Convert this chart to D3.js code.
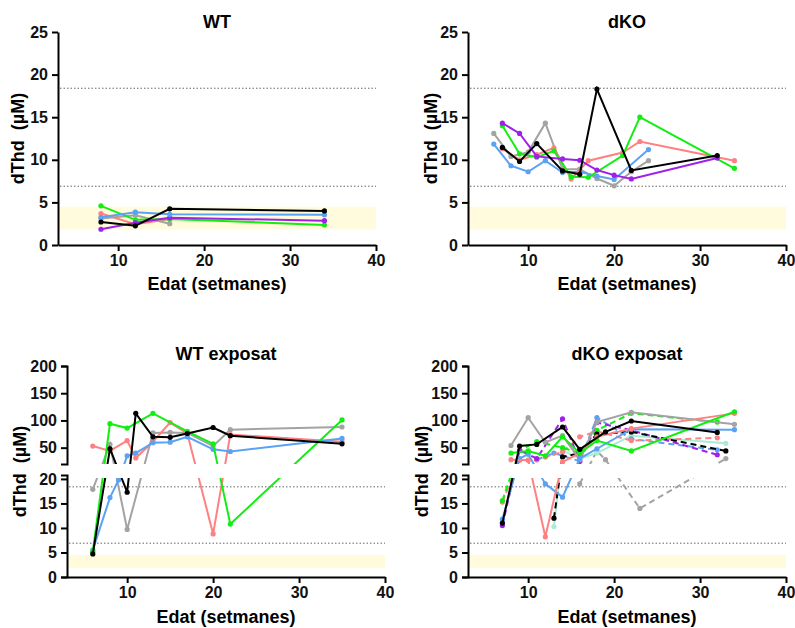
<!DOCTYPE html>
<html>
<head>
<meta charset="utf-8">
<script src="https://cdn.jsdelivr.net/npm/d3@7"></script>
<style>
  body { margin: 0; background: #fff; }
  svg { font-family: "Liberation Sans", Arial, sans-serif; }
</style>
</head>
<body>
<svg id="chart" width="795" height="628"></svg>
<script>
// ticks and reference values
const xTicks = [10, 20, 30, 40];
const yTicksTop = [0, 5, 10, 15, 20, 25];
const yTicksLow = [0, 5, 10, 15, 20];
const yTicksHigh = [50, 100, 150, 200];
const refLines = [18.4, 6.9];
const normalBand = [1.8, 4.5];

// WT  [week, dThd]
const wtGray = [[8, 3.1], [12, 3.5], [16, 2.5]];
const wtPink = [[8, 3.7], [12, 2.45], [16, 3.05]];
const wtGreen = [[8, 4.6], [12, 2.95], [16, 3.05], [34, 2.35]];
const wtPurple = [[8, 1.85], [12, 2.6], [16, 3.2], [34, 2.85]];
const wtBlue = [[8, 3.25], [12, 3.85], [16, 3.6], [34, 3.55]];
const wtBlack = [[8, 2.7], [12, 2.25], [16, 4.25], [34, 4.0]];

// dKO
const dkoGray = [[6, 13.1], [8, 10.4], [10, 10.9], [12, 14.3], [14, 8.9], [16, 8.9], [18, 7.8], [20, 6.95], [22, 8.6], [24, 9.9]];
const dkoBlue = [[6, 11.85], [8, 9.3], [10, 8.6], [12, 9.9], [14, 8.5], [16, 8.6], [18, 8.1], [20, 7.7], [24, 11.2]];
const dkoPink = [[7, 11.3], [9, 10.0], [11, 10.6], [13, 11.4], [15, 7.75], [17, 9.9], [21, 10.85], [23, 12.15], [34, 9.9]];
const dkoGreen = [[7, 14.0], [9, 10.7], [11, 10.3], [13, 11.05], [15, 8.0], [17, 7.95], [21, 10.5], [23, 15.0], [34, 9.0]];
const dkoPurple = [[7, 14.3], [9, 13.1], [11, 10.4], [14, 10.1], [16, 9.95], [18, 8.8], [20, 8.2], [22, 7.75], [32, 10.2]];
const dkoBlack = [[7, 11.45], [9, 9.8], [11, 11.9], [14, 8.7], [16, 8.3], [18, 18.3], [22, 8.75], [32, 10.5]];

// WT exposat
const wteGray = [[6, 17.9], [8, 56], [10, 9.7], [13, 77], [15, 78], [17, 77], [20, 53], [22, 83], [35, 88]];
const wtePink = [[6, 53], [8, 44], [10, 63], [11, 31], [13, 61], [15, 96], [17, 76], [20, 8.8], [22, 74], [35, 61]];
const wteBlue = [[6, 5.5], [8, 16.2], [9, 19.8], [10, 35], [11, 40], [13, 59], [15, 60], [17, 70], [20, 47], [22, 43], [35, 67]];
const wteGreen = [[6, 5.2], [8, 94], [10, 86], [13, 113], [17, 80], [20, 57], [22, 10.8], [35, 101]];
const wteBlack = [[6, 4.7], [8, 48], [10, 17.3], [11, 113], [13, 70], [15, 69], [17, 76], [20, 87], [22, 72], [35, 57]];

// dKO exposat (solid)
const dkeGray = [[8, 54], [10, 105], [12, 60], [14, 72], [16, 28], [18, 97], [22, 115], [34, 93]];
const dkeMint = [[13, 10.3], [14, 45], [16, 30], [18, 40], [22, 72], [33, 58]];
const dkeBlue = [[7, 11.8], [9, 30], [10, 38], [12, 19], [14, 16.3], [16, 30], [18, 48], [22, 84], [34, 83]];
const dkePink = [[8, 28], [10, 27], [12, 8.2], [14, 24], [16, 40], [18, 70], [22, 85], [34, 113]];
const dkeGreen = [[8, 40], [10, 44], [12, 35], [14, 70], [16, 40], [18, 63], [22, 44], [34, 116]];
const dkeBlack = [[7, 11], [9, 53], [11, 56], [14, 88], [16, 47], [19, 79], [22, 99], [32, 78]];
// dKO exposat (dashed)
const dkeGrayD = [[16, 19], [18, 44], [19, 28], [23, 14], [33, 30]];
const dkeBlueD = [[11, 28], [13, 40], [16, 25], [18, 105], [22, 66], [32, 46]];
const dkePinkD = [[7, 15.3], [9, 27], [11, 28], [12, 33], [14, 42], [16, 70], [18, 80], [22, 63], [32, 68]];
const dkeGreenD = [[7, 15.6], [9, 45], [11, 61], [14, 50], [16, 40], [18, 82], [22, 113], [32, 97]];
const dkePurpleD = [[7, 10.5], [9, 45], [11, 30], [14, 103], [16, 25], [18, 96], [22, 82], [32, 37]];
const dkeBlackD = [[13, 12], [14, 33], [16, 40], [18, 75], [22, 79], [33, 44]];

const colors = {
  black: "#000000",
  gray: "#a3a3a3",
  green: "#11ee11",
  pink: "#ff8080",
  blue: "#5aa2f2",
  purple: "#a020e8",
  mint: "#a8ecd4",
};

// simple axis for the top row
const fullAxis = [{ domain: [0, 25], bottom: 245, top: 32, ticks: yTicksTop, outer: 0 }];
// broken axis for the bottom row: 0-20 below, 20-200 above
const brokenAxis = [
  { domain: [0, 20.8], bottom: 577, top: 475, ticks: yTicksLow, outer: 6 },
  { domain: [20, 200], bottom: 464, top: 366, ticks: yTicksHigh, outer: 6 },
];

const panels = [
  {
    title: "WT", left: 58, right: 376, titleY: 28, labelX: 24, xLabelY: 290,
    yDomain: [0, 25], yRange: [245, 32], axes: fullAxis, clips: [[0, 260]],
    series: [
      { data: wtGray, c: "gray" }, { data: wtPink, c: "pink" }, { data: wtGreen, c: "green" },
      { data: wtPurple, c: "purple" }, { data: wtBlue, c: "blue" }, { data: wtBlack, c: "black" },
    ],
  },
  {
    title: "dKO", left: 468, right: 786, titleY: 28, labelX: 437, xLabelY: 290,
    yDomain: [0, 25], yRange: [245, 32], axes: fullAxis, clips: [[0, 260]],
    series: [
      { data: dkoGray, c: "gray" }, { data: dkoBlue, c: "blue" }, { data: dkoPink, c: "pink" },
      { data: dkoGreen, c: "green" }, { data: dkoPurple, c: "purple" }, { data: dkoBlack, c: "black" },
    ],
  },
  {
    title: "WT exposat", left: 67, right: 385, titleY: 360, labelX: 26, xLabelY: 623,
    yDomain: [0, 20, 20.001, 200], yRange: [577, 479, 464, 366], axes: brokenAxis,
    clips: [[478, 590], [355, 464]],
    series: [
      { data: wteGray, c: "gray" }, { data: wtePink, c: "pink" }, { data: wteBlue, c: "blue" },
      { data: wteGreen, c: "green" }, { data: wteBlack, c: "black" },
    ],
  },
  {
    title: "dKO exposat", left: 468, right: 786, titleY: 360, labelX: 428, xLabelY: 623,
    yDomain: [0, 20, 20.001, 200], yRange: [577, 479, 464, 366], axes: brokenAxis,
    clips: [[478, 590], [355, 464]],
    series: [
      { data: dkeGrayD, c: "gray", dash: true }, { data: dkeMint, c: "mint" },
      { data: dkeBlueD, c: "blue", dash: true }, { data: dkePinkD, c: "pink", dash: true },
      { data: dkeGreenD, c: "green", dash: true }, { data: dkePurpleD, c: "purple", dash: true },
      { data: dkeBlackD, c: "black", dash: true },
      { data: dkeGray, c: "gray" }, { data: dkeBlue, c: "blue" }, { data: dkePink, c: "pink" },
      { data: dkeGreen, c: "green" }, { data: dkeBlack, c: "black" },
    ],
  },
];

const svg = d3.select("#chart");
const defs = svg.append("defs");

const styleAxis = (g) => {
  g.attr("font-family", null).attr("font-size", null);
  g.select(".domain").attr("stroke-width", 2);
  g.selectAll(".tick line").attr("stroke-width", 2);
  g.selectAll(".tick text").attr("font-size", 16).attr("font-weight", "bold").attr("fill", "#111");
};

const drawPanel = (p, i) => {
  const x = d3.scaleLinear().domain([3, 40]).range([p.left, p.right]);
  const y = d3.scaleLinear().domain(p.yDomain).range(p.yRange);
  const g = svg.append("g");

  g.append("rect")
    .attr("x", x(3))
    .attr("width", x(40) - x(3))
    .attr("y", y(normalBand[1]))
    .attr("height", y(normalBand[0]) - y(normalBand[1]))
    .attr("fill", "#fffbdc");

  refLines.forEach((r) => {
    g.append("line")
      .attr("x1", x(3) + 2)
      .attr("x2", x(40))
      .attr("y1", y(r))
      .attr("y2", y(r))
      .attr("stroke", "#666")
      .attr("stroke-width", 1)
      .attr("stroke-dasharray", "1.5,2");
  });

  // lines run straight across the break; the gap itself is hidden by the clip
  const clip = defs.append("clipPath").attr("id", "clip" + i);
  p.clips.forEach(([t, b]) => {
    clip.append("rect")
      .attr("x", p.left - 5)
      .attr("width", p.right - p.left + 10)
      .attr("y", t)
      .attr("height", b - t);
  });

  const plot = g.append("g").attr("clip-path", `url(#clip${i})`);
  const valueLine = d3
    .line()
    .x((d) => x(d[0]))
    .y((d) => y(d[1]));

  p.series.forEach((sr) => {
    plot.append("path")
      .datum(sr.data)
      .attr("d", valueLine)
      .attr("fill", "none")
      .attr("stroke", colors[sr.c])
      .attr("stroke-width", 2)
      .attr("stroke-dasharray", sr.dash ? "6,4" : null);
    plot.selectAll(null)
      .data(sr.data)
      .enter()
      .append("circle")
      .attr("r", 2.6)
      .attr("cx", (d) => x(d[0]))
      .attr("cy", (d) => y(d[1]))
      .attr("fill", colors[sr.c]);
  });

  p.axes.forEach((s) => {
    const ya = d3.scaleLinear().domain(s.domain).range([s.bottom, s.top]);
    g.append("g")
      .attr("transform", `translate(${p.left},0)`)
      .call(d3.axisLeft(ya).tickValues(s.ticks).tickSize(6).tickSizeOuter(s.outer).tickPadding(4))
      .call(styleAxis);
  });

  const base = p.yRange[0];
  g.append("g")
    .attr("transform", `translate(0,${base})`)
    .call(d3.axisBottom(x).tickValues(xTicks).tickSize(6).tickSizeOuter(0).tickPadding(4))
    .call(styleAxis);

  const mid = (p.left + p.right) / 2;
  g.append("text")
    .attr("x", mid)
    .attr("y", p.titleY)
    .attr("text-anchor", "middle")
    .attr("font-size", 18)
    .attr("font-weight", "bold")
    .text(p.title);

  g.append("text")
    .attr("x", mid)
    .attr("y", p.xLabelY)
    .attr("text-anchor", "middle")
    .attr("font-size", 18)
    .attr("font-weight", "bold")
    .text("Edat (setmanes)");

  const top = p.yRange[p.yRange.length - 1];
  g.append("text")
    .attr("transform", `translate(${p.labelX},${(top + base) / 2}) rotate(-90)`)
    .attr("text-anchor", "middle")
    .attr("font-size", 18)
    .attr("font-weight", "bold")
    .style("white-space", "pre")
    .text("dThd  (µM)");
};

panels.forEach(drawPanel);
</script>
</body>
</html>
